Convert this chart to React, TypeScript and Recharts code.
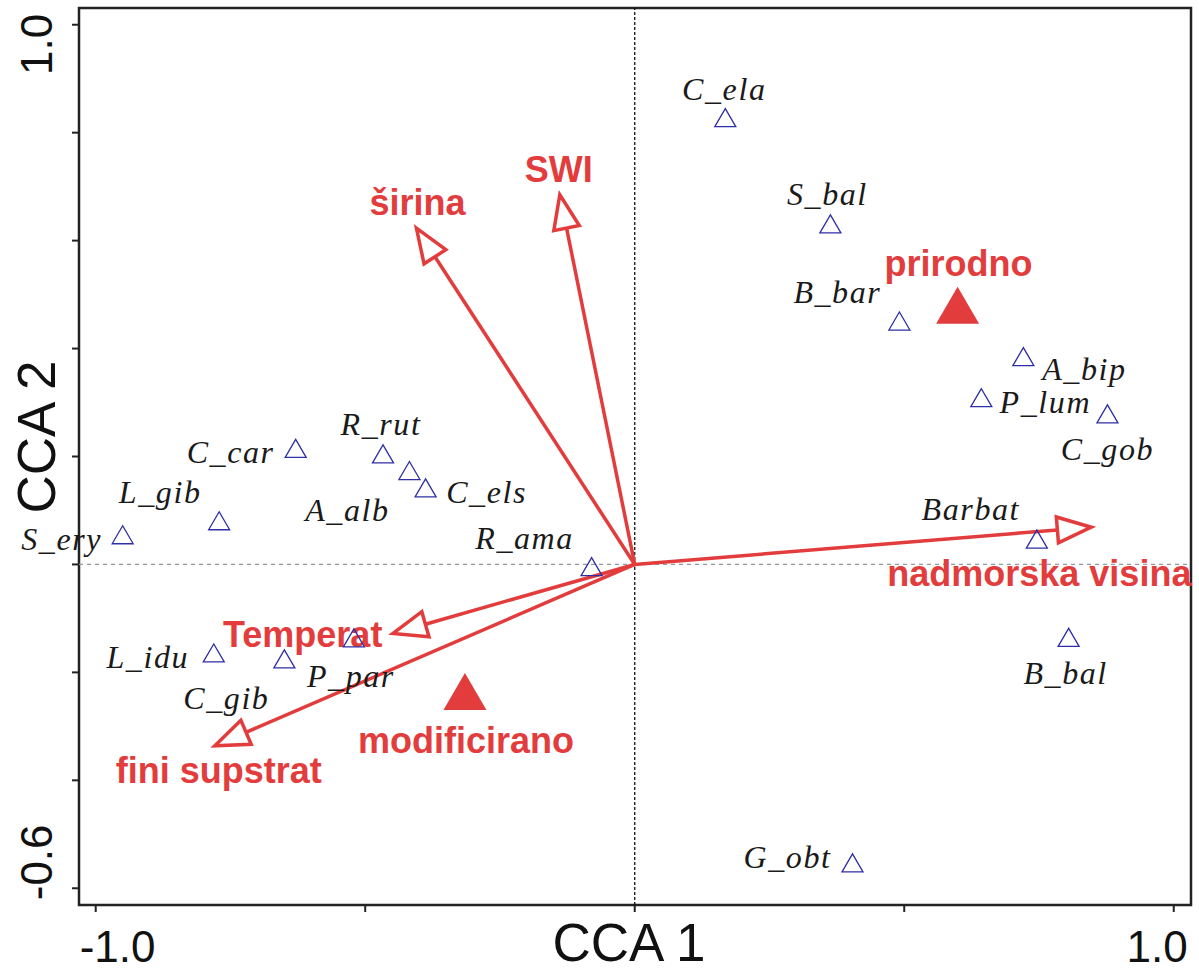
import React from "react";
import {
  ReferenceArea,
  ReferenceLine,
  Scatter,
  ScatterChart,
  XAxis,
  YAxis,
} from "recharts";

// species scores (CCA 1, CCA 2)
const speciesNames = [
  "C_ela", "S_bal", "B_bar", "A_bip", "P_lum", "C_gob", "Barbat", "B_bal", "G_obt",
  "C_car", "R_rut", "A_alb", "C_els", "L_gib", "S_ery", "R_ama", "L_idu", "C_gib", "P_par",
];
const speciesX = [
  0.168, 0.363, 0.491, 0.721, 0.643, 0.877, 0.746, 0.805, 0.404,
  -0.629, -0.467, -0.418, -0.388, -0.771, -0.95, -0.08, -0.781, -0.65, -0.521,
];
const speciesY = [
  0.828, 0.631, 0.451, 0.385, 0.309, 0.279, 0.047, -0.135, -0.553,
  0.215, 0.205, 0.174, 0.142, 0.081, 0.055, -0.004, -0.164, -0.175, -0.136,
];

// environmental variables (arrow tips)
const envNames = ["širina", "SWI", "nadmorska visina", "Temperat", "fini supstrat"];
const envX = [-0.405, -0.139, 0.847, -0.449, -0.779];
const envY = [0.623, 0.685, 0.069, -0.128, -0.336];

// nominal variables (centroids)
const groupNames = ["prirodno", "modificirano"];
const groupX = [0.599, -0.315];
const groupY = [0.469, -0.247];

const xTicks = [-1, -0.5, 0, 0.5, 1];
const yTicks = [-0.6, -0.4, -0.2, 0, 0.2, 0.4, 0.6, 0.8, 1];

// label placement in px relative to the marker: [dx of text centre, dy of baseline]
const speciesLabelOffset = [
  [-1, -18], [-3, -19], [-62, -18], [61, 23], [64, 15], [0, 46], [-66, -19], [-3, 47], [-65, 5],
  [-65, 15], [-2, -19], [-62, 50], [61, 15], [-59, -18], [-61, 15], [-67, -18], [-66, 15], [-58, 50], [-3, 49],
];
const envLabelOffset: [number, number, "middle" | "start"][] = [
  [1, -13, "middle"], [-1, -13, "middle"], [-204, 59, "start"], [-90, 13, "middle"], [4, 37, "middle"],
];
const groupLabelOffset = [[1, -35], [1, 55]];

const RED = "#e23c3c";
const BLUE = "#2e2ea6";
const SANS = "'Liberation Sans', Arial, sans-serif";
const SERIF = "'Liberation Serif', 'Times New Roman', serif";

const species = speciesNames.map((name, i) => ({ name, i, x: speciesX[i], y: speciesY[i] }));
const groups = groupNames.map((name, i) => ({ name, i, x: groupX[i], y: groupY[i] }));

function SpeciesShape(props: any) {
  const { cx, cy, payload } = props;
  const [dx, dy] = speciesLabelOffset[payload.i];
  const h = 9;
  const w = 10.5;
  return (
    <g>
      <polygon
        points={`${cx},${cy - h} ${cx - w},${cy + h} ${cx + w},${cy + h}`}
        fill="none"
        stroke={BLUE}
        strokeWidth={1.3}
      />
      <text
        x={cx + dx}
        y={cy + dy}
        textAnchor="middle"
        fontFamily={SERIF}
        fontStyle="italic"
        fontSize={32}
        letterSpacing={1.6}
        fill="#1a1a1a"
      >
        {payload.name}
      </text>
    </g>
  );
}

function GroupShape(props: any) {
  const { cx, cy, payload } = props;
  const [dx, dy] = groupLabelOffset[payload.i];
  const h = 37;
  const w = 21.5;
  return (
    <g>
      <polygon
        points={`${cx},${cy - (2 * h) / 3} ${cx - w},${cy + h / 3} ${cx + w},${cy + h / 3}`}
        fill={RED}
      />
      <text x={cx + dx} y={cy + dy} textAnchor="middle" fontFamily={SANS} fontWeight="bold" fontSize={36} fill={RED}>
        {payload.name}
      </text>
    </g>
  );
}

function arrowShape(i: number) {
  return (p: any) => {
    const { x1, y1, x2, y2 } = p;
    const len = Math.hypot(x2 - x1, y2 - y1);
    const ux = (x2 - x1) / len;
    const uy = (y2 - y1) / len;
    const L = 34;
    const W = 13;
    const bx = x2 - ux * L;
    const by = y2 - uy * L;
    const [dx, dy, anchor] = envLabelOffset[i];
    return (
      <g>
        <line x1={x1} y1={y1} x2={bx} y2={by} stroke={RED} strokeWidth={3.5} />
        <polygon
          points={`${x2},${y2} ${bx - uy * W},${by + ux * W} ${bx + uy * W},${by - ux * W}`}
          fill="#fff"
          stroke={RED}
          strokeWidth={3.5}
          strokeLinejoin="miter"
        />
        <text x={x2 + dx} y={y2 + dy} textAnchor={anchor} fontFamily={SANS} fontWeight="bold" fontSize={36} fill={RED}>
          {envNames[i]}
        </text>
      </g>
    );
  };
}

function XTick(props: any) {
  const { x, y, payload } = props;
  const v = payload.value;
  if (Math.abs(Math.abs(v) - 1) > 1e-9) return null;
  return (
    <text
      x={v < 0 ? x - 16 : x + 14}
      y={y + 48}
      textAnchor={v < 0 ? "start" : "end"}
      fontFamily={SANS}
      fontSize={44}
      fill="#111"
    >
      {v.toFixed(1)}
    </text>
  );
}

function YTick(props: any) {
  const { y, payload } = props;
  const v = payload.value;
  const top = Math.abs(v - 1) < 1e-9;
  const bottom = Math.abs(v + 0.6) < 1e-9;
  if (!top && !bottom) return null;
  const bx = 52;
  const by = top ? y - 11 : y + 12;
  return (
    <text
      x={bx}
      y={by}
      transform={`rotate(-90, ${bx}, ${by})`}
      textAnchor={top ? "end" : "start"}
      fontFamily={SANS}
      fontSize={44}
      fill="#111"
    >
      {v.toFixed(1)}
    </text>
  );
}

export default function App() {
  return (
    <div style={{ position: "absolute", left: 0, top: 0, background: "#fff" }}>
      <ScatterChart width={1199} height={972} margin={{ top: 8, right: 8, bottom: 0, left: 0 }}>
        <XAxis
          type="number"
          dataKey="x"
          domain={[-1.031, 1.032]}
          ticks={xTicks}
          axisLine={false}
          tickLine={{ stroke: "#222", strokeWidth: 2 }}
          tickSize={7}
          height={67}
          tick={<XTick />}
          label={{
            content: (lp: any) => {
              const vb = lp.viewBox;
              return (
                <text x={vb.x + vb.width / 2 - 6} y={961} textAnchor="middle" fontFamily={SANS} fontSize={53} fill="#111">
                  CCA 1
                </text>
              );
            },
          }}
        />
        <YAxis
          type="number"
          dataKey="y"
          domain={[-0.631, 1.031]}
          ticks={yTicks}
          axisLine={false}
          tickLine={{ stroke: "#222", strokeWidth: 2 }}
          tickSize={7}
          width={79}
          tick={<YTick />}
          label={{
            content: () => (
              <text x={55} y={437} transform="rotate(-90, 55, 437)" textAnchor="middle" fontFamily={SANS} fontSize={53} fill="#111">
                CCA 2
              </text>
            ),
          }}
        />
        <ReferenceLine x={0} stroke="#111" strokeWidth={1.3} strokeDasharray="3 2" />
        <ReferenceLine y={0} stroke="#999" strokeWidth={1.2} strokeDasharray="4 4" />
        <Scatter data={species} shape={<SpeciesShape />} isAnimationActive={false} />
        {envNames.map((name, i) => (
          <ReferenceLine
            key={name}
            segment={[{ x: 0, y: 0 }, { x: envX[i], y: envY[i] }]}
            ifOverflow="visible"
            shape={arrowShape(i)}
          />
        ))}
        <Scatter data={groups} shape={<GroupShape />} isAnimationActive={false} />
        <ReferenceArea
          x1={-1.031}
          x2={1.032}
          y1={-0.631}
          y2={1.031}
          fill="none"
          fillOpacity={0}
          stroke="#222"
          strokeWidth={2.5}
          ifOverflow="visible"
        />
      </ScatterChart>
    </div>
  );
}
